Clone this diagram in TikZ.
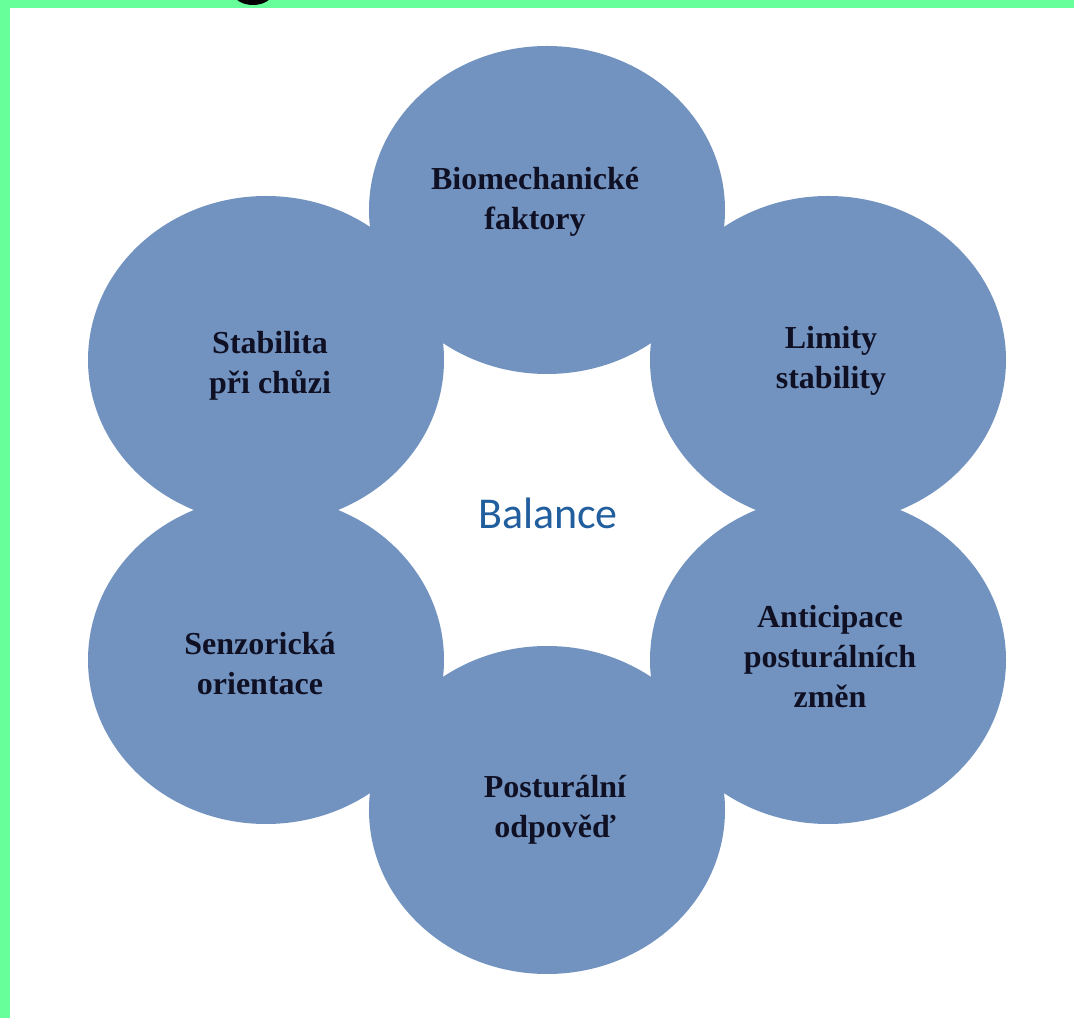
\documentclass[tikz,border=0pt]{standalone}
\usepackage{xcolor}
\usepackage{fontspec}
\setmainfont{Liberation Serif}
\newfontfamily\balancefont{Carlito}
\usepackage{tikz}
\usetikzlibrary{shapes.geometric}
\definecolor{discblue}{RGB}{114,147,192}
\definecolor{framegreen}{RGB}{102,255,153}
\definecolor{balanceblue}{RGB}{33,94,158}
\definecolor{labelink}{RGB}{16,16,36}

\begin{document}
\begin{tikzpicture}
[x=1pt, y=1pt,
disc/.style={ellipse, fill=discblue, minimum width=356pt, minimum height=328pt, inner sep=0pt},
factor/.style={align=center, text=labelink, font=\fontsize{32}{40}\selectfont\bfseries, inner sep=0pt},
hub/.style={text=balanceblue, font=\balancefont\fontsize{44}{50}\selectfont, inner sep=0pt}]

\useasboundingbox (0,0) rectangle (1074,1018);
\fill[white] (0,0) rectangle (1074,1018);

% six discs round the centre
\node[disc] (bio)  at (547,808) {};
\node[disc] (lim)  at (828,658) {};
\node[disc] (anti) at (828,358) {};
\node[disc] (post) at (547,208) {};
\node[disc] (senz) at (266,358) {};
\node[disc] (stab) at (266,658) {};

\node[factor] (biotext)  at (535,816) {Biomechanické\\faktory};
\node[factor] (limtext)  at (831,657) {Limity\\stability};
\node[factor] (antitext) at (830,361) {Anticipace\\posturálních\\změn};
\node[factor] (posttext) at (555,208) {Posturální\\odpověď};
\node[factor] (senztext) at (260,354) {Senzorická\\orientace};
\node[factor] (stabtext) at (270,652) {Stabilita\\při chůzi};

\node[hub] (balance) at (548,505) {Balance};

% frame along the top and the left side
\fill[framegreen] (0,1010) rectangle (1074,1018);
\fill[framegreen] (0,0) rectangle (10,1018);
\begin{scope}
\clip (0,0) rectangle (1074,1018);
\fill[black] (253,1026) ellipse (20 and 13);
\end{scope}
\end{tikzpicture}
\end{document}
